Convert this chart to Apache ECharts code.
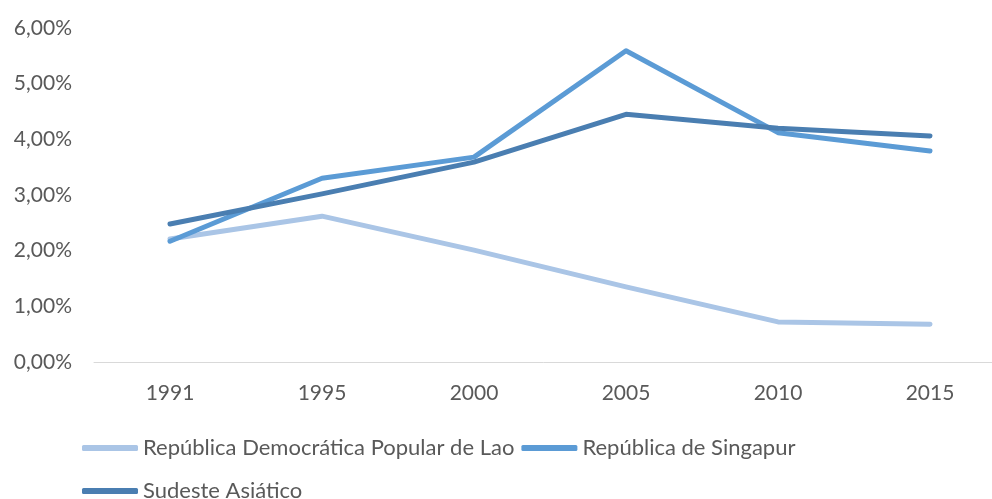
<!DOCTYPE html>
<html><head><meta charset="utf-8">
<script src="https://cdn.jsdelivr.net/npm/echarts@6/dist/echarts.min.js"></script>
<style>html,body{margin:0;padding:0;background:#fff}#c{width:992px;height:499px}</style>
</head><body><div id="c"></div>
<script>
const categories = ['1991','1995','2000','2005','2010','2015'];
const seriesNames = ['República Democrática Popular de Lao','República de Singapur','Sudeste Asiático'];
const lao = [2.21, 2.62, 2.01, 1.35, 0.72, 0.68];
const singapur = [2.17, 3.30, 3.68, 5.59, 4.12, 3.79];
const sudeste = [2.48, 3.02, 3.59, 4.45, 4.20, 4.06];
const colors = ['#AAC5E6', '#5B9BD5', '#4A7EB1'];
const FONT = 'Lato';
const chart = echarts.init(document.getElementById('c'));
const legendCommon = {
  orient: 'horizontal', itemWidth: 56, itemHeight: 6, itemGap: 7,
  icon: 'roundRect', padding: 0,
  textStyle: { color: '#595959', fontSize: 22, fontFamily: FONT }
};
chart.setOption({
  animation: false,
  color: colors,
  grid: { left: 94, width: 912, top: 28, bottom: 137, outerBoundsMode: 'none', containLabel: false },
  legend: [
    Object.assign({ left: 82, top: 437, data: [seriesNames[0], seriesNames[1]] }, legendCommon),
    Object.assign({ left: 82, top: 480, data: [seriesNames[2]] }, legendCommon)
  ],
  xAxis: {
    type: 'category', data: categories, boundaryGap: true,
    axisLine: { lineStyle: { color: '#D9D9D9', width: 1 } },
    axisTick: { show: false },
    axisLabel: { color: '#595959', fontSize: 21, fontFamily: FONT, margin: 21 }
  },
  yAxis: {
    type: 'value', min: 0, max: 6, interval: 1,
    splitLine: { show: false },
    axisLine: { show: false }, axisTick: { show: false },
    axisLabel: { color: '#595959', fontSize: 21, fontFamily: FONT, margin: 22,
      formatter: v => v.toFixed(2).replace('.', ',') + '%' }
  },
  series: [lao, singapur, sudeste].map((d, i) => ({
    name: seriesNames[i], type: 'line', data: d, symbol: 'none',
    lineStyle: { width: 5, color: colors[i], cap: 'round', join: 'round' },
    itemStyle: { color: colors[i] }
  }))
});
</script></body></html>
